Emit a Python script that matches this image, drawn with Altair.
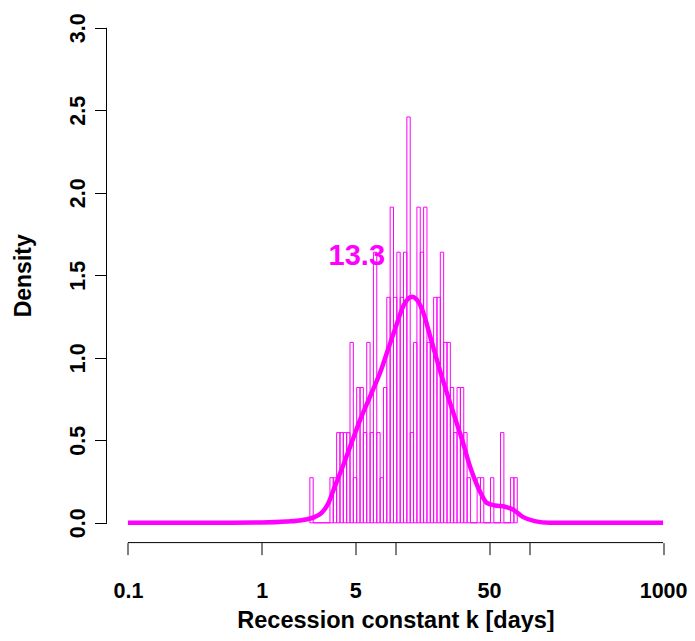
import altair as alt
import pandas as pd
import numpy as np

# ---- data ----
# histogram of log10(k): bins start at log10 = 0.36, width 0.025 (log10 units)
bin_start_log = 0.36
bin_width_log = 0.025
counts = [1, 0, 0, 0, 0, 0, 1, 1, 2, 2, 2, 2,
          4, 1, 3, 3, 2, 4, 2, 6, 2, 1,
          3, 5, 7, 5, 6, 5, 6, 9, 2, 4,
          7, 6, 7, 4, 4, 5, 5, 6, 4, 4,
          3, 2, 3, 3, 2, 1,
          0, 0, 1, 1, 0, 0, 1, 0, 0, 2, 0, 0, 1, 1]
density_per_count = 0.2733

# kernel density curve
curve_k = [0.1, 0.5, 1.0, 1.54, 1.99, 2.5, 2.8, 3.14, 3.51, 3.94, 4.67, 5.54, 6.57,
           7.79, 8.79, 10.07, 11.54, 13.3, 15.7, 18.6, 22.1, 26.2, 31.0, 36.8,
           42.2, 48.3, 55.4, 65.8, 75.4, 89.4, 109.6, 141.6, 300, 1000]
curve_d = [0.0, 0.0, 0.002, 0.008, 0.016, 0.036, 0.06, 0.117, 0.218, 0.32, 0.48, 0.64, 0.78,
           0.925, 1.05, 1.19, 1.32, 1.37, 1.30, 1.10, 0.89, 0.70, 0.52, 0.32,
           0.20, 0.12, 0.105, 0.097, 0.08, 0.036, 0.01, 0.0, 0.0, 0.0]

mode_label = "13.3"
mode_value = 13.3
label_y = 1.56

x_ticks = [0.1, 1, 5, 10, 50, 100, 1000]
y_ticks = [0.0, 0.5, 1.0, 1.5, 2.0, 2.5, 3.0]
x_title = "Recession constant k [days]"
y_title = "Density"

MAGENTA = "#FF00FF"
FONT = "Liberation Sans"

# ---- tables ----
lo = [bin_start_log + i * bin_width_log for i in range(len(counts))]
hist = pd.DataFrame({
    "x": [10 ** v for v in lo],
    "x2": [10 ** (v + bin_width_log) for v in lo],
    "y": [c * density_per_count for c in counts],
    "y0": [0.0] * len(counts),
})
curve = pd.DataFrame({"k": curve_k, "d": curve_d})
lab = pd.DataFrame({"x": [mode_value], "y": [label_y], "t": [mode_label]})
xaxis_df = pd.DataFrame({"a": [x_ticks[0]], "b": [x_ticks[-1]]})
yaxis_df = pd.DataFrame({"a": [y_ticks[0]], "b": [y_ticks[-1]]})

W = 578.0
H = 534.6
xdom = [10 ** -1.16, 10 ** 3.16]
ydom = [-0.12, 3.12]

xscale = alt.Scale(type="log", domain=xdom, nice=False, zero=False)
yscale = alt.Scale(domain=ydom, nice=False, zero=False)

xaxis = alt.Axis(values=x_ticks, format="~g",
                 labelExpr="(datum.value == 10 || datum.value == 100) ? '' : datum.label",
                 domain=False, grid=False, ticks=True, tickSize=12, tickColor="#000",
                 tickWidth=1, labelFont=FONT, labelFontWeight="bold", labelFontSize=21.5,
                 labelColor="#000", labelBaseline="alphabetic", labelPadding=42.4,
                 labelOverlap=False, labelFlush=False, labelBound=False,
                 title=x_title, titleFont=FONT, titleFontWeight="bold", titleFontSize=23.5,
                 titleColor="#000", titleX=W / 2, titleY=84.4, titleAlign="center",
                 titleBaseline="alphabetic")
yaxis = alt.Axis(values=y_ticks, format=".1f",
                 domain=False, grid=False, ticks=True, tickSize=12, tickColor="#000",
                 tickWidth=1, labelFont=FONT, labelFontWeight="bold", labelFontSize=21.5,
                 labelColor="#000", labelAngle=-90, labelAlign="center",
                 labelBaseline="alphabetic", labelPadding=10.5,
                 labelOverlap=False, labelFlush=False, labelBound=False,
                 title=y_title, titleFont=FONT, titleFontWeight="bold", titleFontSize=23,
                 titleColor="#000", titleAngle=-90, titleX=-76.5, titleY=H / 2,
                 titleAlign="center", titleBaseline="alphabetic")

bars = alt.Chart(hist).mark_rect(filled=False, stroke=MAGENTA, strokeWidth=1).encode(
    x=alt.X("x:Q", scale=xscale, axis=xaxis),
    x2="x2:Q",
    y=alt.Y("y:Q", scale=yscale, axis=yaxis),
    y2="y0:Q",
)

line = alt.Chart(curve).mark_line(color=MAGENTA, strokeWidth=4.5, interpolate="monotone").encode(
    x=alt.X("k:Q", scale=xscale),
    y=alt.Y("d:Q", scale=yscale),
)

text = alt.Chart(lab).mark_text(font=FONT, fontWeight="bold", fontSize=29, color=MAGENTA,
                                align="right", baseline="alphabetic", dx=-27).encode(
    x=alt.X("x:Q", scale=xscale),
    y=alt.Y("y:Q", scale=yscale),
    text="t:N",
)

xline = alt.Chart(xaxis_df).mark_rule(color="#000", strokeWidth=1).encode(
    x=alt.X("a:Q", scale=xscale), x2="b:Q", y=alt.value(H))
yline = alt.Chart(yaxis_df).mark_rule(color="#000", strokeWidth=1).encode(
    y=alt.Y("a:Q", scale=yscale), y2="b:Q", x=alt.value(0))

chart = alt.layer(bars, line, text, xline, yline).properties(
    width=W, height=H,
    background="white",
    autosize=alt.AutoSizeParams(type="none"),
    padding={"left": 98.5, "top": 0, "right": 2.5, "bottom": 89.4},
).configure_view(stroke=None)

chart.save("out.html", embed_options={"renderer": "svg", "actions": False})
